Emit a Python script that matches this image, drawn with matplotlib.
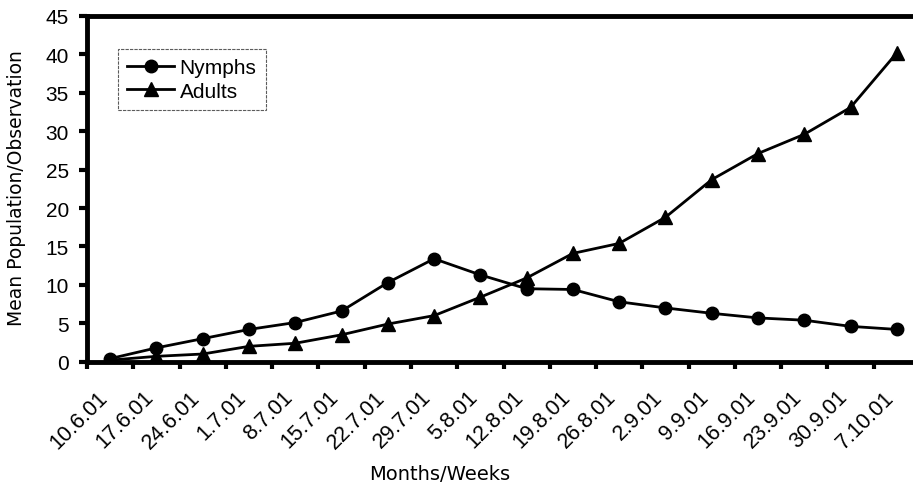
import matplotlib
matplotlib.use("Agg")
import matplotlib.pyplot as plt
import numpy as np

dates = ["10.6.01", "17.6.01", "24.6.01", "1.7.01", "8.7.01", "15.7.01", "22.7.01",
         "29.7.01", "5.8.01", "12.8.01", "19.8.01", "26.8.01", "2.9.01", "9.9.01",
         "16.9.01", "23.9.01", "30.9.01", "7.10.01"]
nymphs = [0.4, 1.8, 3.0, 4.2, 5.1, 6.6, 10.3, 13.4, 11.3, 9.5, 9.4, 7.8, 7.0, 6.3,
          5.7, 5.4, 4.6, 4.2]
adults = [0.2, 0.7, 1.0, 2.0, 2.4, 3.5, 4.9, 6.0, 8.4, 10.9, 14.1, 15.4, 18.8, 23.7,
          27.1, 29.6, 33.1, 40.2]
yticks = [0, 5, 10, 15, 20, 25, 30, 35, 40, 45]

W, H = 913, 489
fig = plt.figure(figsize=(W / 100, H / 100), dpi=100)
ax_left, ax_right, ax_bottom, ax_top = 87, 920, 362.7, 17
ax = fig.add_axes([ax_left / W, 1 - ax_bottom / H, (ax_right - ax_left) / W,
                   (ax_bottom - ax_top) / H])

x = np.arange(len(dates))
ax.plot(x, nymphs, color="black", lw=2, marker="o", ms=9, label="Nymphs")
ax.plot(x, adults, color="black", lw=2, marker="^", ms=9.5, label="Adults")

ax.set_xlim(-0.5, len(dates) - 0.5)
ax.set_ylim(0, 45)
ax.set_yticks(yticks)
ax.set_yticklabels([str(v) for v in yticks], fontfamily="Liberation Sans", fontsize=15)
ax.set_xticks(x)
ax.set_xticklabels([])
ax.set_xticks(np.arange(-0.5, len(dates) + 0.5, 1), minor=True)
ax.tick_params(axis="x", which="major", length=0)
ax.tick_params(axis="x", which="minor", length=5, width=3, direction="out")
ax.tick_params(axis="y", length=6, width=3, direction="out", pad=7)

# px -> points at dpi 100: * 0.72
for xi, lab in zip(x, dates):
    ax.annotate(lab, xy=(xi, 0), xycoords=("data", "axes fraction"),
                xytext=(-6 * 0.72, -32 * 0.72), textcoords="offset points",
                rotation=45, ha="right", va="center", rotation_mode="anchor",
                fontfamily="Liberation Sans", fontsize=15.5, annotation_clip=False)

for s in ["left", "bottom", "top"]:
    ax.spines[s].set_linewidth(3.5)
ax.spines["right"].set_visible(False)

fig.text(17 / W, 1 - 188 / H, "Mean Population/Observation", rotation=90,
         fontfamily="DejaVu Sans", fontsize=13.5, ha="center", va="center")
fig.text(440 / W, 1 - 475 / H, "Months/Weeks", fontfamily="DejaVu Sans", fontsize=14,
         ha="center", va="center")

leg = ax.legend(loc="upper left",
                bbox_to_anchor=((118 - ax_left) / (ax_right - ax_left),
                                (ax_bottom - 50) / (ax_bottom - ax_top)),
                borderaxespad=0,
                prop={"family": "Liberation Sans", "size": 15}, frameon=True,
                fancybox=False, borderpad=0.45, handlelength=2.25, handletextpad=0.25,
                labelspacing=0.2)
leg.get_frame().set_edgecolor("#333333")
leg.get_frame().set_linewidth(0.8)
leg.get_frame().set_linestyle((0, (3, 1)))

fig.savefig("out.png", dpi=100)
